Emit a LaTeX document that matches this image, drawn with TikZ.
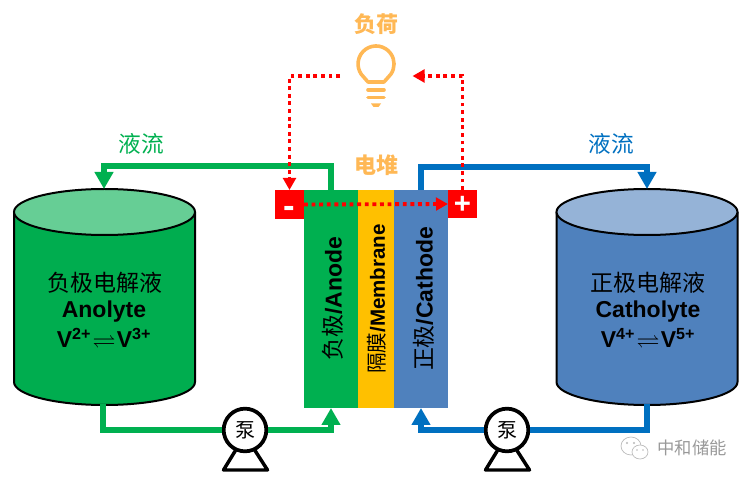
\documentclass[tikz,border=0pt]{standalone}
\usepackage{fontspec}
\usepackage{amssymb}
\setmainfont{Liberation Sans}
\newfontfamily\cjk{Noto Sans CJK SC}
\usetikzlibrary{arrows.meta,calc}
\definecolor{tgreen}{HTML}{00AD4F}
\definecolor{lgreen}{HTML}{66CE95}
\definecolor{sgreen}{HTML}{00B050}
\definecolor{tblue}{HTML}{4F81BD}
\definecolor{lblue}{HTML}{95B3D7}
\definecolor{pblue}{HTML}{0070C0}
\definecolor{amber}{HTML}{FFB855}
\definecolor{yel}{HTML}{FFC000}
\newcommand{\fs}[1]{\fontsize{#1}{#1}\selectfont}
\tikzset{
  x=0.75pt,y=-0.75pt,
  pipe/.style={line width=4.1pt,-{Triangle[width=13.5pt,length=12.75pt]},line join=miter},
  pipenotip/.style={line width=4.1pt,line join=miter},
  dots/.style={red,line width=2.9pt,dash pattern=on 2.9pt off 2.8pt},
  dotsarrow/.style={dots,-{Triangle[width=9.5pt,length=9pt]}},
  stackbox/.style={minimum height=163.5pt,inner sep=0pt,outer sep=0pt,anchor=north west},
  polebox/.style={fill=red,inner sep=0pt,outer sep=0pt,anchor=north west,text=white,font=\bfseries},
  pumpnode/.style={circle,draw=black,fill=white,line width=2.8pt,minimum size=32pt,inner sep=0pt,font=\cjk\fs{15}},
  stand/.style={draw=black,fill=white,line width=2.6pt,line join=round},
  tanklabel/.style={font=\bfseries\fs{17.25},text=black,inner sep=0pt},
  tankcjk/.style={font=\cjk\fs{17.25},text=black,inner sep=0pt},
  heading/.style={font=\cjk\bfseries\fs{16.5},text=amber,inner sep=0pt},
  flowlabel/.style={font=\cjk\fs{17},inner sep=0pt},
  bulbline/.style={amber,line width=2.7pt,line cap=round,line join=round},
  stacklabel/.style={rotate=90,inner sep=0pt,text=black,font=\fs{17.2}},
  mark gray/.style={draw=gray!55,line width=0.5pt,fill=white},
}
\newcommand{\tank}[3]{%
  \fill[#2] (#1-90.5,212) -- (#1-90.5,382) arc[start angle=180,end angle=0,x radius=90.5,y radius=23] -- (#1+90.5,212) -- cycle;
  \draw[black,line width=1.5pt] (#1-90.5,212) -- (#1-90.5,382) arc[start angle=180,end angle=0,x radius=90.5,y radius=23] -- (#1+90.5,212);
  \draw[black,line width=1.5pt,fill=#3] (#1,212) ellipse[x radius=90.5,y radius=23];
}
\begin{document}
\begin{tikzpicture}
\useasboundingbox (0,0) rectangle (751,481);

% tanks
\tank{104.5}{tgreen}{lgreen}
\tank{647}{tblue}{lblue}
\coordinate (tankLtop) at (104,189);
\coordinate (tankRtop) at (647,189);
\coordinate (tankLbot) at (103,404);
\coordinate (tankRbot) at (647,404);

% stack
\node[stackbox,fill=sgreen,minimum width=40.5pt] (anode) at (304,190) {};
\node[stackbox,fill=yel,minimum width=27pt] (membrane) at (358,190) {};
\node[stackbox,fill=tblue,minimum width=40.5pt] (cathode) at (394,190) {};

\node[polebox,minimum width=21.75pt,minimum height=21.75pt,font=\bfseries\fs{26}] (minus) at (275,190) {\raisebox{-10pt}[0pt][0pt]{-}};
\node[polebox,minimum width=21.75pt,minimum height=21pt,font=\bfseries\fs{22}] (plus) at (448,190) {\raisebox{-7.5pt}[0pt][0pt]{+}};

% pumps
\coordinate (pumpLc) at (245,430);
\coordinate (pumpRc) at (507,430);
\draw[stand] (245,435) -- (223.5,470) -- (267.5,470) -- cycle;
\draw[stand] (507,435) -- (485.5,470) -- (529.5,470) -- cycle;

% pipes
\draw[pipe,sgreen] (anode.north) |- (204,166) -| (tankLtop);
\draw[pipe,pblue] (421,190) |- (530,167) -| (tankRtop);
\coordinate (anodeIn) at (331,408);
\coordinate (cathodeIn) at (421,408);
\node[pumpnode] (pumpL) at (pumpLc) {泵};
\node[pumpnode] (pumpR) at (pumpRc) {泵};
\draw[pipenotip,sgreen] (tankLbot) |- (pumpL.west);
\draw[pipe,sgreen] (pumpL.east) -| (anodeIn);
\draw[pipenotip,pblue] (tankRbot) |- (pumpR.east);
\draw[pipe,pblue] (pumpR.west) -| (cathodeIn);

% bulb
\node[heading] (load) at (376,24.5) {负荷};
\draw[bulbline] (361.3,74.3) arc[start angle=145,end angle=395,radius=18] -- (384,82) -- (368,82) -- cycle;
\draw[bulbline] (368,90) -- (384,90);
\draw[bulbline] (368,97.5) -- (384,97.5);
\fill[amber] (371,103.5) -- (381,103.5) -- (378.5,107) -- (373.5,107) -- cycle;
\coordinate (bulbL) at (340,76);
\coordinate (bulbR) at (412.5,76);

% circuit
\draw[dotsarrow] (bulbL) -| (minus.north);
\draw[dotsarrow] (plus.north) |- (bulbR);
\draw[dotsarrow] (minus.east) -- (plus.west);

% labels
\node[heading] (stacktitle) at (376,165) {电堆};
\node[flowlabel,text=sgreen] (flowL) at (141,144) {液流};
\node[flowlabel,text=pblue] (flowR) at (611,144) {液流};

\node[tankcjk] (a1) at (105,283) {负极电解液};
\node[tanklabel] (a2) at (104,312) {Anolyte};
\node[tanklabel] (a3) at (104,338) {V\textsuperscript{2+}\hspace{1pt}$\rightleftharpoons$\hspace{1pt}V\textsuperscript{3+}};
\node[tankcjk] (c1) at (648,283) {正极电解液};
\node[tanklabel] (c2) at (648,312) {Catholyte};
\node[tanklabel] (c3) at (648,338) {V\textsuperscript{4+}\hspace{1pt}$\rightleftharpoons$\hspace{1pt}V\textsuperscript{5+}};

\node[stacklabel] (anodetxt) at (333,299) {{\cjk 负极}\textbf{/Anode}};
\node[stacklabel,font=\fs{15.4}] (memtxt) at (377,299) {{\cjk 隔膜}\textbf{/Membrane}};
\node[stacklabel] (cathtxt) at (424,299) {{\cjk 正极}\textbf{/Cathode}};

% watermark
\draw[mark gray] (631,446) ellipse[x radius=10,y radius=9];
\draw[mark gray] (640,452) ellipse[x radius=8,y radius=7];
\fill[gray!55] (627,443) circle[radius=1.1] (634,443) circle[radius=1.1] (637,450) circle[radius=0.9] (643,450) circle[radius=0.9];
\node[inner sep=0pt,text=gray!80,font=\cjk\fs{13}] (mark) at (692,448) {中和储能};
\end{tikzpicture}
\end{document}
